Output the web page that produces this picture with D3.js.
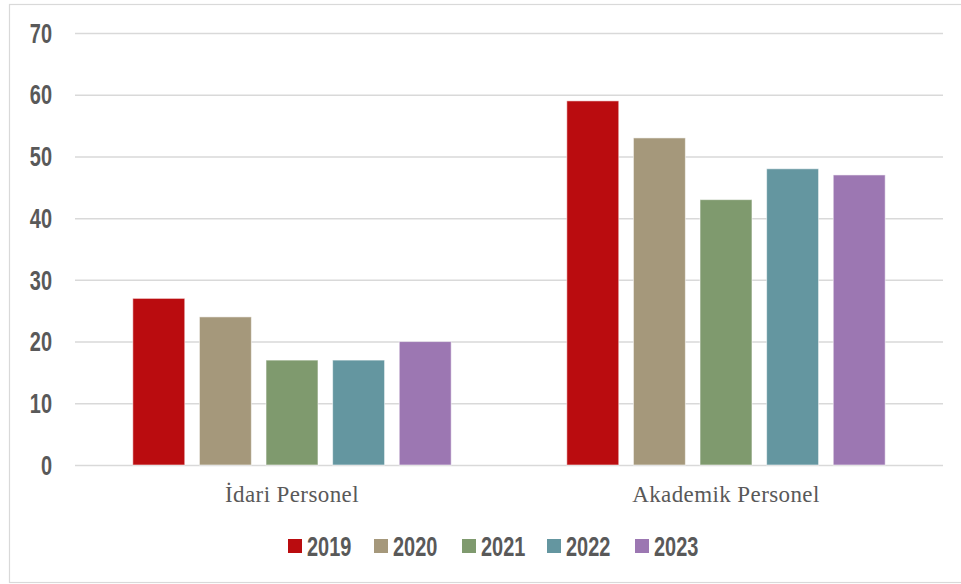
<!DOCTYPE html>
<html><head><meta charset="utf-8">
<script src="https://cdn.jsdelivr.net/npm/d3@7"></script>
<style>body{margin:0;background:#fff}svg{display:block}</style>
</head><body>
<svg id="c" width="961" height="584"></svg>
<script>
const categories = ["İdari Personel", "Akademik Personel"];
const years = ["2019", "2020", "2021", "2022", "2023"];
const values2019 = [27, 59];
const values2020 = [24, 53];
const values2021 = [17, 43];
const values2022 = [17, 48];
const values2023 = [20, 47];
const yTicks = [0, 10, 20, 30, 40, 50, 60, 70];
const colors = ["#BA0C0F", "#A5987B", "#7F9A6E", "#6496A0", "#9C77B2"];
const series = [values2019, values2020, values2021, values2022, values2023];

(function () {
const svg = d3.select("#c");
svg.append("rect").attr("x", 9.5).attr("y", 4.5).attr("width", 960).attr("height", 578)
  .attr("fill", "none").attr("stroke", "#d9d9d9").attr("stroke-width", 1.2);

const mLeft = 75, mRight = 943, mTop = 33, mBottom = 465;
const y = d3.scaleLinear().domain([0, 70]).range([mBottom, mTop]);
const x0 = d3.scaleBand().domain(categories).range([mLeft, mRight]).padding(0);
const x1 = d3.scaleBand().domain(years).range([0, x0.bandwidth()]).paddingInner(0.22).paddingOuter(0.868);
const color = d3.scaleOrdinal().domain(years).range(colors);

// grid
const grid = svg.append("g").attr("transform", `translate(${mLeft},0)`)
  .call(d3.axisLeft(y).tickValues(yTicks).tickSize(-(mRight - mLeft)).tickFormat(""));
grid.select(".domain").remove();
grid.selectAll(".tick line").attr("stroke", "#d9d9d9").attr("stroke-width", 1.5);

// y labels
svg.append("g").selectAll("text").data(yTicks).join("text")
  .attr("transform", d => `translate(52,${y(d)}) scale(0.74,1)`)
  .attr("text-anchor", "end").attr("dy", "0.36em")
  .attr("font-family", "Liberation Sans, Arial, sans-serif").attr("font-weight", "bold")
  .attr("font-size", 27).attr("fill", "#595959")
  .text(d => d);

// bars
const rows = categories.map((c, i) => ({ cat: c, vals: years.map((yr, j) => ({ yr, v: series[j][i] })) }));
const g = svg.append("g").selectAll("g").data(rows).join("g")
  .attr("transform", d => `translate(${x0(d.cat)},0)`);
g.selectAll("rect").data(d => d.vals).join("rect")
  .attr("x", d => x1(d.yr)).attr("width", x1.bandwidth())
  .attr("y", d => y(d.v)).attr("height", d => y(0) - y(d.v))
  .attr("fill", d => color(d.yr))
  .attr("stroke", "#ffffff").attr("stroke-opacity", 0.55).attr("stroke-width", 1);

// category labels
svg.append("g").selectAll("text").data(categories).join("text")
  .attr("x", d => x0(d) + x0.bandwidth() / 2).attr("y", 502)
  .attr("text-anchor", "middle")
  .attr("font-family", "Liberation Serif, Times New Roman, serif")
  .attr("font-size", 23).attr("letter-spacing", 0.4).attr("fill", "#595959")
  .text(d => d);

// legend
const legendX = [288, 374, 462, 547, 635];
const lg = svg.append("g").selectAll("g").data(years).join("g")
  .attr("transform", (d, i) => `translate(${legendX[i]},539)`);
lg.append("rect").attr("width", 14).attr("height", 14).attr("fill", d => color(d));
lg.append("text").attr("transform", "translate(19,7) scale(0.74,1)")
  .attr("dy", "0.36em")
  .attr("font-family", "Liberation Sans, Arial, sans-serif").attr("font-weight", "bold")
  .attr("font-size", 27).attr("fill", "#595959")
  .text(d => d);
})();
</script>
</body></html>
